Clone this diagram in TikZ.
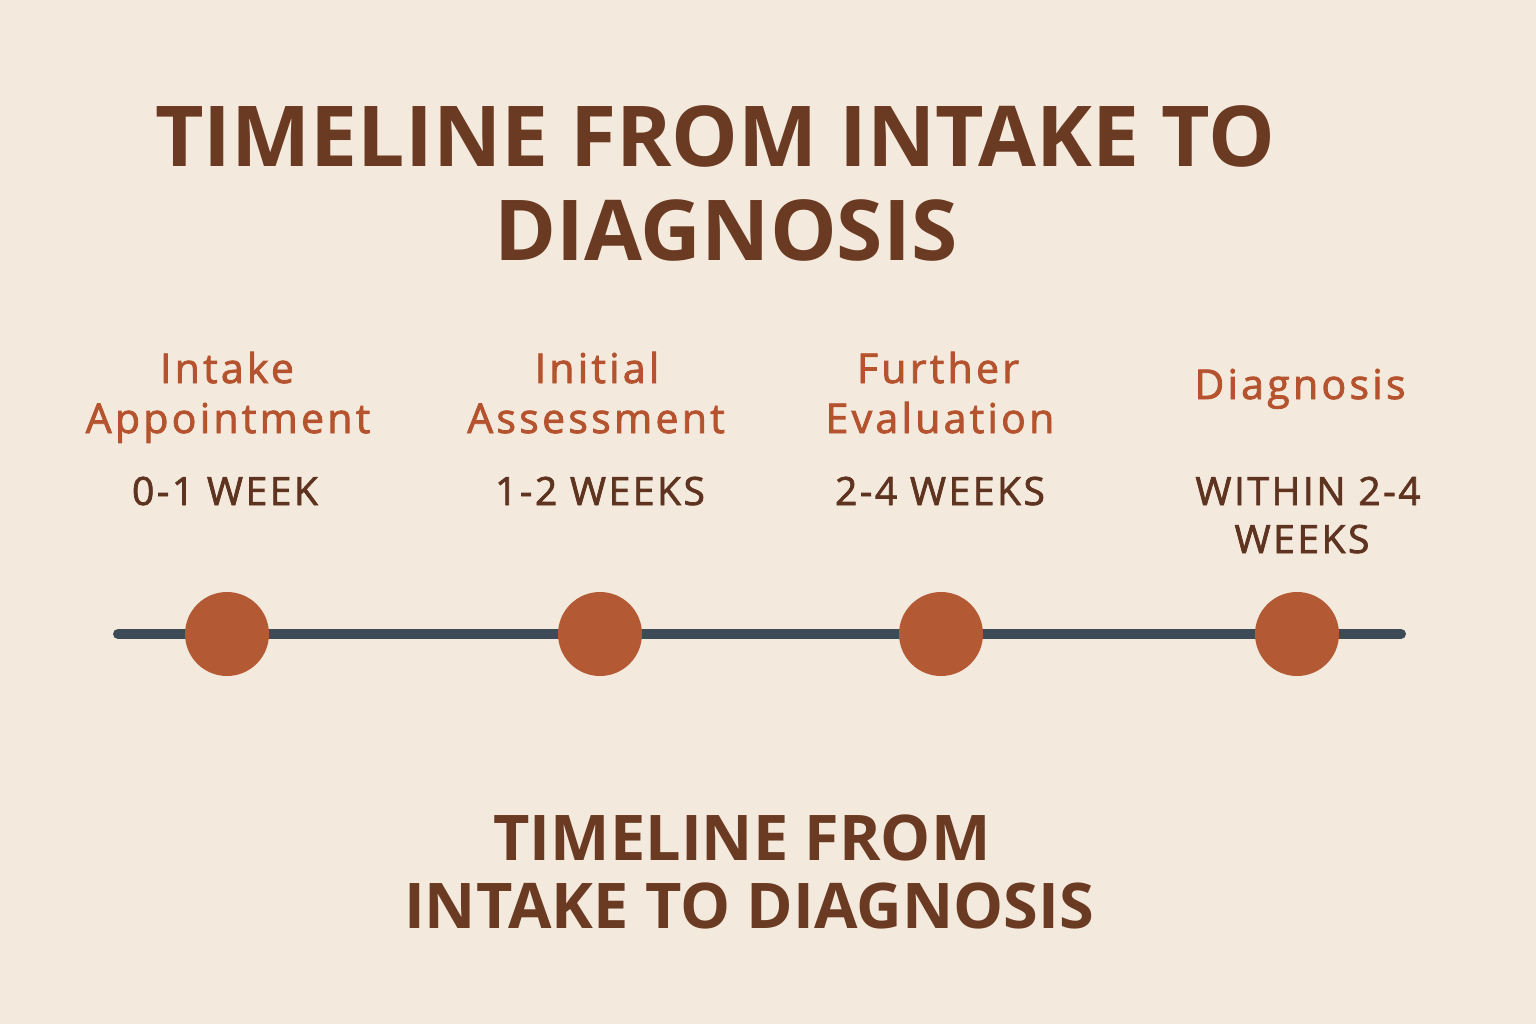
\documentclass[tikz,border=0pt]{standalone}
\usepackage{fontspec}
\setmainfont{Open Sans}
\newfontfamily\labelfont{Open Sans}[LetterSpace=8, FakeBold=2]
\newfontfamily\weekfont{Open Sans}[LetterSpace=6.5, FakeBold=1.8]
\definecolor{bg}{HTML}{F4E9DD}
\definecolor{titlec}{HTML}{6B3A22}
\definecolor{labelc}{HTML}{B5532E}
\definecolor{weekc}{HTML}{5E3320}
\definecolor{linec}{HTML}{3D4B56}
\definecolor{dotc}{HTML}{B35A35}
\tikzset{
  titletext/.style={anchor=base, inner sep=0pt, text=titlec, font=\fontsize{84}{90}\selectfont\bfseries},
  subtitletext/.style={anchor=base, inner sep=0pt, text=titlec, font=\fontsize{63}{70}\selectfont\bfseries},
  labeltext/.style={anchor=base, inner sep=0pt, text=labelc, font=\labelfont\fontsize{41}{45}\selectfont},
  weektext/.style={anchor=base, inner sep=0pt, text=weekc, font=\weekfont\fontsize{39}{44}\selectfont},
  dot/.style={circle, fill=dotc, minimum size=84pt, inner sep=0pt},
  axis/.style={line width=10pt, draw=linec, line cap=round}
}
\begin{document}
\begin{tikzpicture}[x=1pt,y=-1pt]
\fill[bg] (0,0) rectangle (1536,1024);
\useasboundingbox (0,0) rectangle (1536,1024);
% title
\node[titletext] (t1) at (715,167) {TIMELINE FROM INTAKE TO};
\node[titletext] (t2) at (726,261) {DIAGNOSIS};
% axis
\coordinate (ls) at (118,634);
\coordinate (le) at (1401,634);
\draw[axis] (ls) -- (le);
% dots
\node[dot] (d1) at (227,634) {};
\node[dot] (d2) at (600,634) {};
\node[dot] (d3) at (941,634) {};
\node[dot] (d4) at (1297,634) {};
% labels
\node[labeltext] (a1) at (227,383) {Intake};
\node[labeltext] (a2) at (228,433) {Appointment};
\node[labeltext] (b1) at (597,383) {Initial};
\node[labeltext] (b2) at (596,433) {Assessment};
\node[labeltext] (c1) at (938,383) {Further};
\node[labeltext] (c2) at (940,433) {Evaluation};
\node[labeltext] (e1) at (1300,399) {Diagnosis};
% weeks
\node[weektext] (w1) at (225,505) {0-1 WEEK};
\node[weektext] (w2) at (600,505) {1-2 WEEKS};
\node[weektext] (w3) at (940,505) {2-4 WEEKS};
\node[weektext] (w4) at (1308,505) {WITHIN 2-4};
\node[weektext] (w5) at (1302,553) {WEEKS};
% bottom title
\node[subtitletext] (s1) at (742,860) {TIMELINE FROM};
\node[subtitletext] (s2) at (749,928) {INTAKE TO DIAGNOSIS};
\end{tikzpicture}
\end{document}
